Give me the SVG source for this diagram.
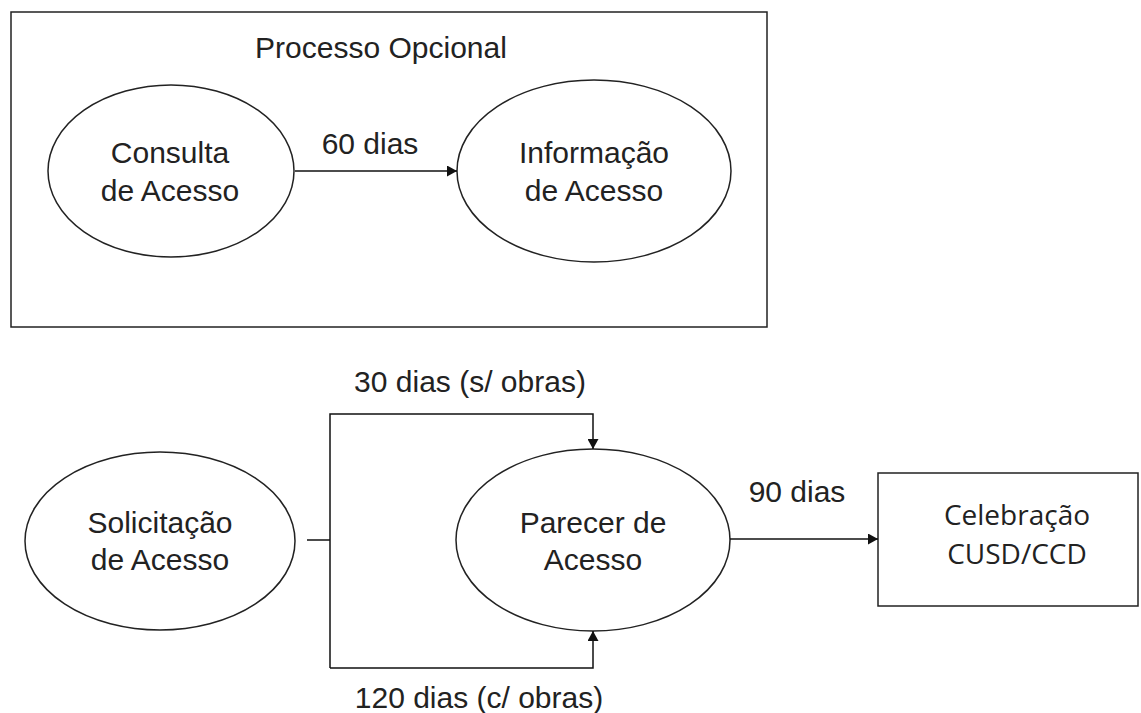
<svg xmlns="http://www.w3.org/2000/svg" width="1141" height="713" viewBox="0 0 1141 713">
<style>
.s{fill:#fff;stroke:#222;stroke-width:1.5}
.t{font-family:"Liberation Sans",Arial,sans-serif;font-size:30px;fill:#222;text-anchor:middle}
.c{fill:none;stroke:#111;stroke-width:1.5}
.u{font-family:"Open Sans","Noto Sans",sans-serif;font-size:28px;fill:#222;text-anchor:middle}
</style>
<defs>
<marker id="a" markerWidth="10" markerHeight="11" refX="10" refY="5.5" orient="auto" markerUnits="userSpaceOnUse">
<path d="M0,0 L10,5.5 L0,11 Z" fill="#111"/>
</marker>
</defs>
<rect width="1141" height="713" fill="#fff"/>
<g id="opcional">
<rect x="11" y="12" width="756" height="315" class="s"/>
<text x="381" y="58" class="t">Processo Opcional</text>
</g>
<g id="consulta">
<ellipse cx="171" cy="171" rx="123" ry="86" class="s"/>
<text x="170" y="163" class="t">Consulta</text>
<text x="170" y="201" class="t">de Acesso</text>
</g>
<g id="informacao">
<ellipse cx="594" cy="171" rx="137" ry="91" class="s"/>
<text x="594" y="163" class="t">Informação</text>
<text x="594" y="201" class="t">de Acesso</text>
</g>
<g id="solicitacao">
<ellipse cx="160" cy="541" rx="135" ry="89" class="s"/>
<text x="160" y="533" class="t">Solicitação</text>
<text x="160" y="570" class="t">de Acesso</text>
</g>
<g id="parecer">
<ellipse cx="593" cy="540" rx="137" ry="91" class="s"/>
<text x="593" y="533" class="t">Parecer de</text>
<text x="593" y="570" class="t">Acesso</text>
</g>
<g id="celebracao">
<rect x="878" y="473" width="260" height="133" class="s"/>
<text x="1017" y="525" class="u">Celebração</text>
<text x="1017" y="564" class="u">CUSD/CCD</text>
</g>
<g id="connectors">
<line x1="295" y1="171" x2="457" y2="171" class="c" marker-end="url(#a)"/>
<text x="370" y="154" class="t">60 dias</text>
<line x1="307" y1="540" x2="330" y2="540" class="c"/>
<polyline points="330,668 330,414 593,414 593,449" class="c" marker-end="url(#a)"/>
<polyline points="330,668 593,668 593,631" class="c" marker-end="url(#a)"/>
<text x="470" y="392" class="t">30 dias (s/ obras)</text>
<text x="479" y="708" class="t">120 dias (c/ obras)</text>
<line x1="730" y1="539" x2="878" y2="539" class="c" marker-end="url(#a)"/>
<text x="797" y="502" class="t">90 dias</text>
</g>
</svg>
